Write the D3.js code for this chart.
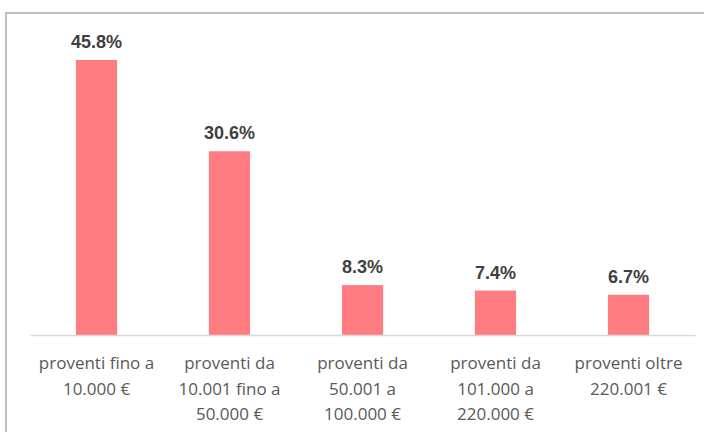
<!DOCTYPE html>
<html>
<head>
<meta charset="utf-8">
<script src="https://cdn.jsdelivr.net/npm/d3@7"></script>
<style>
  html, body { margin: 0; padding: 0; background: #fff; overflow: hidden; }
</style>
</head>
<body>
<div id="chart"></div>
<script>
// chart data
const categories = ["fino10", "da10", "da50", "da101", "oltre220"];
const values = [45.8, 30.6, 8.3, 7.4, 6.7];
const tickLabels = [
  ["proventi fino a", "10.000 €"],
  ["proventi da", "10.001 fino a", "50.000 €"],
  ["proventi da", "50.001 a", "100.000 €"],
  ["proventi da", "101.000 a", "220.000 €"],
  ["proventi oltre", "220.001 €"]
];

const width = 704, height = 432;
const margin = { top: 60, right: 9, bottom: 97, left: 30 };

const svg = d3.select('#chart')
  .append('svg')
  .attr('width', width)
  .attr('height', height);

// outer frame (runs off the right and bottom edge)
svg.append('rect')
  .attr('x', 6).attr('y', 13)
  .attr('width', 760).attr('height', 480)
  .attr('fill', 'none')
  .attr('stroke', '#bfbfbf')
  .attr('stroke-width', 2);

const g = svg.append('g')
  .attr('transform', `translate(${margin.left},${margin.top})`);

const innerW = width - margin.left - margin.right;
const innerH = height - margin.top - margin.bottom;

var x = d3.scaleBand()
  .domain(categories)
  .range([0, innerW])
  .paddingInner(0.69)
  .paddingOuter(0.345);

var y = d3.scaleLinear()
  .domain([0, 45.8])
  .range([innerH, 0]);

// bars
g.selectAll('.bar')
  .data(values)
  .enter()
  .append('rect')
    .attr('class', 'bar')
    .attr('x', (d, i) => x(categories[i]))
    .attr('y', d => y(d))
    .attr('width', x.bandwidth())
    .attr('height', d => y(0) - y(d))
    .attr('fill', '#ff7c80');

// x axis
const xAxis = g.append('g')
  .attr('transform', `translate(0,${innerH})`)
  .call(d3.axisBottom(x).tickSize(0).tickFormat(''));
xAxis.select('.domain').attr('stroke', '#d9d9d9').attr('stroke-width', 1.5);

xAxis.selectAll('.tick text').remove();
xAxis.selectAll('.tick').each(function(d, i) {
  const t = d3.select(this).append('text')
    .attr('fill', '#595959')
    .attr('text-anchor', 'middle')
    .style('font-family', '"Open Sans", sans-serif')
    .style('font-size', '17px');
  tickLabels[i].forEach((line, j) => {
    t.append('tspan')
      .attr('x', 0)
      .attr('y', 34 + j * 25.5)
      .text(line);
  });
});

// value labels
g.selectAll('.lbl')
  .data(values)
  .enter()
  .append('text')
    .attr('x', (d, i) => x(categories[i]) + x.bandwidth() / 2)
    .attr('y', d => y(d) - 12)
    .attr('text-anchor', 'middle')
    .attr('fill', '#404040')
    .style('font-family', '"Liberation Sans", Arial, sans-serif')
    .style('font-weight', 'bold')
    .style('font-size', '18px')
    .text(d => d.toFixed(1) + '%');
</script>
</body>
</html>
